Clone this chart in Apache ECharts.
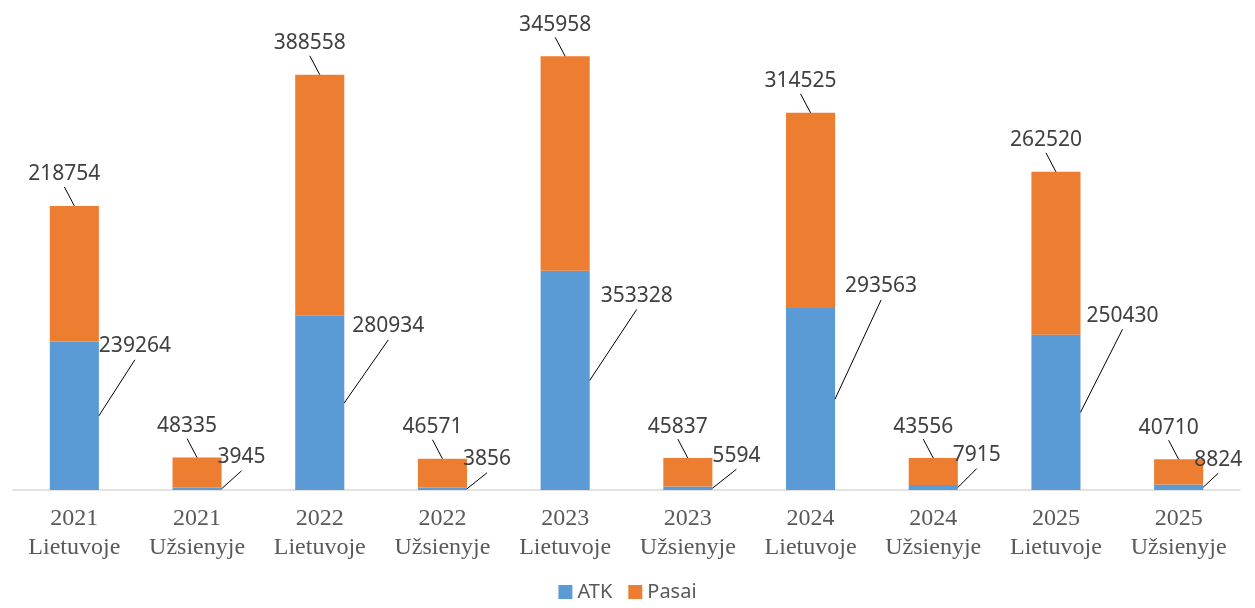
<!DOCTYPE html>
<html>
<head>
<meta charset="utf-8">
<script src="https://cdn.jsdelivr.net/npm/echarts@6/dist/echarts.min.js"></script>
<style>
  html, body { margin: 0; padding: 0; background: #fff; }
  #chart { width: 1255px; height: 608px; }
</style>
</head>
<body>
<div id="chart"></div>
<script>
const categories = [
  "2021\nLietuvoje", "2021\nUžsienyje",
  "2022\nLietuvoje", "2022\nUžsienyje",
  "2023\nLietuvoje", "2023\nUžsienyje",
  "2024\nLietuvoje", "2024\nUžsienyje",
  "2025\nLietuvoje", "2025\nUžsienyje"
];
const atk   = [239264, 3945, 280934, 3856, 353328, 5594, 293563, 7915, 250430, 8824];
const pasai = [218754, 48335, 388558, 46571, 345958, 45837, 314525, 43556, 262520, 40710];

// kur nutempti ATK etiketes (px nuo stulpelio dešinio krašto vidurio)
const atkShift = [
  [36, -56], [20, -18], [44, -63], [20, -16], [47, -71],
  [24, -19], [46, -99], [19, -19], [42, -83], [15, -14]
];
const pasaiShift = [-10, -19];

const chart = echarts.init(document.getElementById("chart"));

const labelFont = {
  fontFamily: "Noto Sans",
  fontSize: 21,
  color: "#404040",
};
const lineStyle = { stroke: "#000", lineWidth: 1 };

// linijos nuo stulpelio iki etiketės
const renderLeaders = (params, api) => {
  const i = api.value(0);
  const a = api.value(1);
  const p = api.value(2);
  const halfW = api.size([1, 0])[0] * 0.4 / 2;
  const mid = api.coord([i, a / 2]);
  const top = api.coord([i, a + p]);
  const s = atkShift[i];
  const x0 = mid[0] + halfW;
  return {
    type: "group",
    children: [
      {
        type: "line",
        shape: { x1: x0, y1: mid[1], x2: x0 + s[0], y2: mid[1] + s[1] },
        style: lineStyle,
      },
      {
        type: "line",
        shape: { x1: top[0], y1: top[1], x2: top[0] + pasaiShift[0], y2: top[1] + pasaiShift[1] },
        style: lineStyle,
      },
    ],
  };
};

const option = {
  animation: false,
  grid: { left: 13, right: 15, top: 0, bottom: 118 },
  legend: {
    data: ["ATK", "Pasai"],
    bottom: 1,
    icon: "rect",
    itemWidth: 14,
    itemHeight: 14,
    itemGap: 16,
    itemStyle: { borderWidth: 0 },
    textStyle: { fontFamily: "Noto Sans", fontSize: 20, color: "#595959" },
  },
  xAxis: {
    type: "category",
    data: categories,
    axisLine: { lineStyle: { color: "#d9d9d9", width: 1.5 } },
    axisTick: { length: 7, lineStyle: { color: "#d9d9d9", width: 1.5 } },
    axisLabel: {
      margin: 14,
      fontFamily: "Liberation Serif",
      fontSize: 24,
      lineHeight: 29,
      color: "#595959",
      interval: 0,
    },
  },
  yAxis: { type: "value", min: 0, max: 790000, show: false },
  series: [
    {
      name: "ATK",
      type: "bar",
      stack: "total",
      barWidth: "40%",
      color: "#5B9BD5",
      data: atk,
      label: { show: true, position: "right", ...labelFont },
      labelLayout: (p) => {
        const r = p.rect;
        const s = atkShift[p.dataIndex];
        return {
          x: r.x + r.width + s[0],
          y: r.y + r.height / 2 + s[1] - 13.5,
          align: "center",
          verticalAlign: "middle",
        };
      },
    },
    {
      name: "Pasai",
      type: "bar",
      stack: "total",
      barWidth: "40%",
      color: "#ED7D31",
      data: pasai,
      label: { show: true, position: "top", ...labelFont },
      labelLayout: (p) => {
        const r = p.rect;
        return {
          x: r.x + r.width / 2 + pasaiShift[0],
          y: r.y + pasaiShift[1] - 12.5,
          align: "center",
          verticalAlign: "middle",
        };
      },
    },
    {
      name: "leaders",
      type: "custom",
      silent: true,
      z: 5,
      renderItem: renderLeaders,
      data: categories.map((c, i) => [i, atk[i], pasai[i]]),
    },
  ],
};

chart.setOption(option);
</script>
</body>
</html>
